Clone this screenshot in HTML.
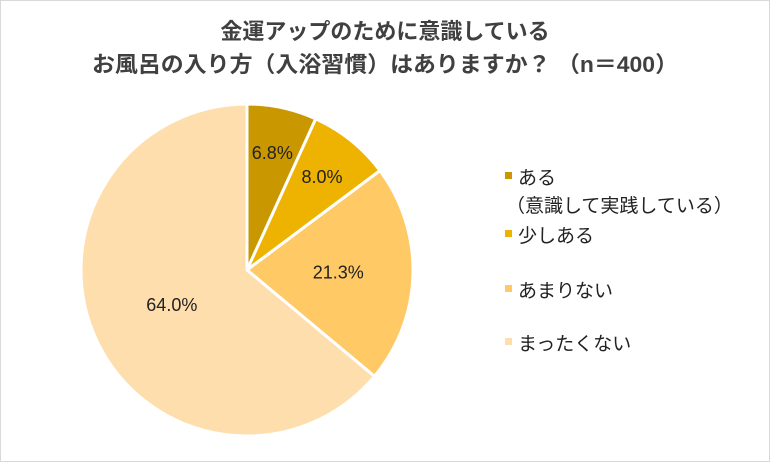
<!DOCTYPE html>
<html><head><meta charset="utf-8"><style>
body{margin:0;background:#fff}
svg{display:block;font-family:"Liberation Sans","Noto Sans CJK JP",sans-serif}
</style></head><body>
<svg id="chart" width="770" height="462">
<rect x="0.5" y="0.5" width="769" height="461" fill="#fff" stroke="#d9d9d9"/>
<text x="385" y="39" text-anchor="middle" font-size="22" font-weight="bold" fill="#404040">金運アップのために意識している</text>
<text x="385" y="72" text-anchor="middle" font-size="22" font-weight="bold" fill="#404040" textLength="586" lengthAdjust="spacingAndGlyphs">お風呂の入り方（入浴習慣）はありますか？ （n＝400）</text>
<g id="slices"></g>
<g id="labels"></g>
<g id="legend"></g>
</svg>
<script>
const categories = ["ある", "少しある", "あまりない", "まったくない"];
const values = [6.8, 8.0, 21.3, 64.0];
const valueLabels = ["6.8%", "8.0%", "21.3%", "64.0%"];
const colors = ["#C99700", "#EEB200", "#FFC966", "#FFDEAD"];
const cx = 247, cy = 270, r = 166;
const NS = "http://www.w3.org/2000/svg";
const total = values.reduce((a, b) => a + b, 0);
const sg = document.getElementById('slices'), lg = document.getElementById('labels'), leg = document.getElementById('legend');
function pt(a, rr) { return [cx + rr * Math.sin(a), cy - rr * Math.cos(a)]; }
let acc = 0;
const labelR = [0.72, 0.72, 0.55, 0.5];
values.forEach((v, i) => {
  const a0 = acc / total * 2 * Math.PI; acc += v;
  const a1 = acc / total * 2 * Math.PI;
  const p0 = pt(a0, r), p1 = pt(a1, r);
  const large = (a1 - a0) > Math.PI ? 1 : 0;
  const p = document.createElementNS(NS, 'path');
  p.setAttribute('d', `M${cx},${cy} L${p0[0]},${p0[1]} A${r},${r} 0 ${large} 1 ${p1[0]},${p1[1]} Z`);
  p.setAttribute('fill', colors[i]);
  p.setAttribute('stroke', '#fff');
  p.setAttribute('stroke-width', '3');
  
  
  sg.appendChild(p);
  const m = (a0 + a1) / 2, lp = pt(m, r * labelR[i]);
  const t = document.createElementNS(NS, 'text');
  t.setAttribute('x', lp[0]); t.setAttribute('y', lp[1] + 6);
  t.setAttribute('text-anchor', 'middle'); t.setAttribute('font-size', '18'); t.setAttribute('fill', '#222');
  t.textContent = valueLabels[i];
  
  
  lg.appendChild(t);
});
const legY = [177, 235, 290, 343];
categories.forEach((c, i) => {
  const g = document.createElementNS(NS, 'g');
  
  
  const s = document.createElementNS(NS, 'rect');
  s.setAttribute('x', 505); s.setAttribute('y', legY[i] - 5); s.setAttribute('width', 7); s.setAttribute('height', 7);
  s.setAttribute('fill', colors[i]);
  g.appendChild(s);
  const t = document.createElementNS(NS, 'text');
  t.setAttribute('x', 518); t.setAttribute('y', legY[i] + 7);
  t.setAttribute('font-size', '19'); t.setAttribute('fill', '#222');
  t.textContent = c;
  g.appendChild(t);
  if (i === 0) {
    const t2 = document.createElementNS(NS, 'text');
    t2.setAttribute('x', 506); t2.setAttribute('y', legY[i] + 35);
    t2.setAttribute('font-size', '19'); t2.setAttribute('fill', '#222');
    t2.textContent = '（意識して実践している）';
    g.appendChild(t2);
  }
  leg.appendChild(g);
});
</script>
</body></html>
